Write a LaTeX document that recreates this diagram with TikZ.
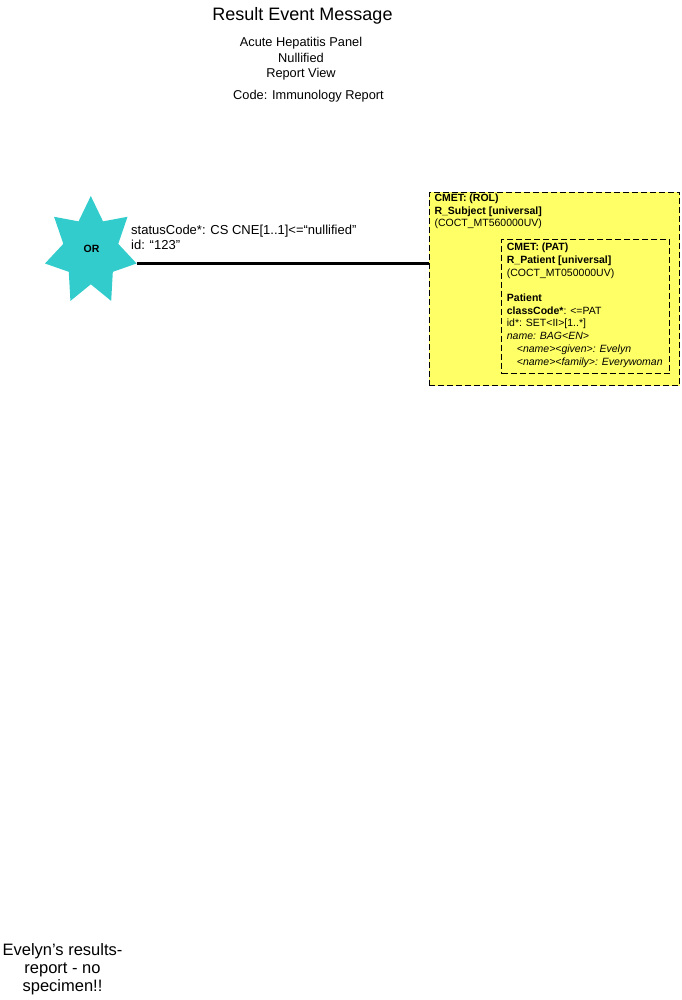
\documentclass[tikz,border=0pt]{standalone}
\usepackage{fontspec}
\setmainfont{Liberation Sans}
\setsansfont{Liberation Sans}
\RequirePackage{xcolor}
\definecolor{cmetyellow}{RGB}{255,255,102}
\definecolor{orteal}{RGB}{51,204,204}
\tikzset{every picture/.style={/utils/exec={\sffamily}}}
\usetikzlibrary{calc}
\usetikzlibrary{positioning}
\tikzset{
  titletext/.style={inner sep=0pt, font=\fontsize{18}{21}\selectfont},
  subtext/.style={inner sep=0pt, align=center, font=\fontsize{12.8}{15.5}\selectfont},
  attrtext/.style={inner sep=0pt, align=left, font=\fontsize{13}{14.5}\selectfont},
  cmetbox/.style={draw, fill=cmetyellow, line width=1pt, dash pattern=on 6pt off 3pt, inner sep=0pt},
  cmettext/.style={inner sep=0pt, align=left, font=\fontsize{10.5}{12.7}\selectfont},
  ortext/.style={inner sep=0pt, font=\fontsize{10.5}{12}\selectfont\bfseries},
  notetext/.style={inner sep=0pt, align=center, font=\fontsize{16.5}{18.3}\selectfont},
  link/.style={line width=2.8pt}
}
\begin{document}
\begin{tikzpicture}[x=1pt,y=-1pt]
  \useasboundingbox (0,0) rectangle (681,1000);
  % heading (multi-line nodes sit on their last baseline)
  \node [titletext, anchor=base] (title) at (302.5,20.5) {Result Event Message};
  \node [subtext, anchor=base] (sub) at (301,78) {Acute Hepatitis Panel\\Nullified\\Report View};
  \node [subtext, anchor=base] (code) at (308.5,100) {Code: Immunology Report};

  % choice star
  \fill [orteal, shift={(90.8,251.2)}, xscale=0.851] (-90:55.2)
    \foreach \k in {1,...,13} { -- ({-90+\k*180/7}:{ifthenelse(mod(\k,2)==0,55.2,33.1)}) } -- cycle;
  \node [ortext] (or) at (91.5,248.5) {OR};
  \coordinate (ortip) at (136.7,263.3);

  % CMET boxes
  \node [cmetbox, anchor=north west, minimum width=250.5pt, minimum height=193.3pt] (subj) at (428.8,191.7) {};
  \node [cmetbox, anchor=north west, minimum width=168.3pt, minimum height=134.3pt] (pat) at (501,239) {};
  \node [cmettext, anchor=base west] (subjtext) at (434.3,227)
    {\textbf{CMET: (ROL)}\\\textbf{R\_Subject [universal]}\\(COCT\_MT560000UV)};
  \node [cmettext, anchor=base west] (pattext) at (506.7,365)
    {\textbf{CMET: (PAT)}\\\textbf{R\_Patient [universal]}\\(COCT\_MT050000UV)\\[12.7pt]
     \textbf{Patient}\\\textbf{classCode*}: <=PAT\\id*: SET<II>[1..*]\\\textit{name: BAG<EN>}\\
     \hspace*{10pt}\textit{<name><given>: Evelyn}\\\hspace*{10pt}\textit{<name><family>: Everywoman}};

  % participation
  \draw [link] (ortip) -- (ortip -| subj.west);
  \node [attrtext, anchor=base west] (attr) at (131,249.5) {statusCode*: CS CNE[1..1]<=“nullified”\\id: “123”};

  % note
  \node [notetext, anchor=base] (note) at (62.5,991.6) {Evelyn’s results-\\report - no\\specimen!!};
\end{tikzpicture}
\end{document}
